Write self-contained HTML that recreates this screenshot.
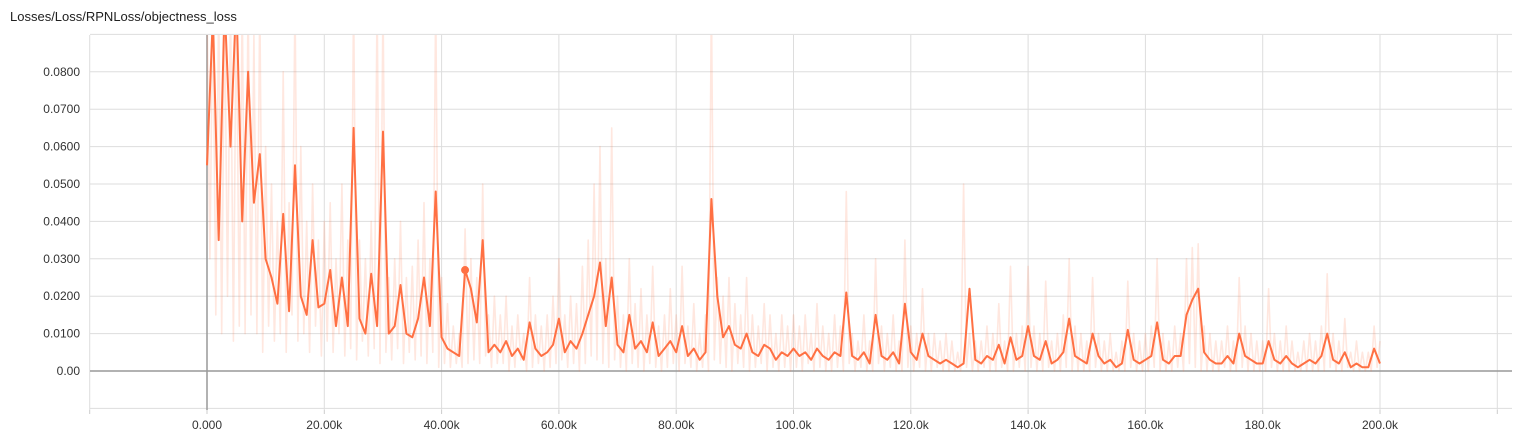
<!DOCTYPE html>
<html><head><meta charset="utf-8">
<style>
html,body{margin:0;padding:0;background:#fff;width:1515px;height:434px;overflow:hidden;font-family:"Liberation Sans",sans-serif;}
#title{position:absolute;left:10px;top:9px;font-size:13px;color:#212121;}
svg{position:absolute;left:0;top:0;}
text{font-family:"Liberation Sans",sans-serif;font-size:12px;fill:#333;}
</style></head>
<body>
<div id="title">Losses/Loss/RPNLoss/objectness_loss</div>
<svg id="chart" width="1515" height="434"></svg>
<script>
// steps in thousands; loss values in thousandths (milli)
const smoothedMilli = [
55,95,35,98,60,100,40,80,45,58,
30,25,18,42,16,55,20,15,35,17,
18,27,12,25,12,65,14,10,26,12,
64,10,12,23,10,9,14,25,12,48,
9,6,5,4,27,22,13,35,5,7,
5,8,4,6,3,13,6,4,5,7,
14,5,8,6,10,15,20,29,12,25,
7,5,15,6,8,5,13,4,6,8,
5,12,4,6,3,5,46,20,9,12,
7,6,10,5,4,7,6,3,5,4,
6,4,5,3,6,4,3,5,4,21,
4,3,5,2,15,4,3,5,2,18,
5,3,10,4,3,2,3,2,1,2,
22,3,2,4,3,7,2,9,3,4,
12,4,3,8,2,3,5,14,4,3,
2,10,4,2,3,1,2,11,3,2,
3,4,13,3,2,4,4,15,19,22,
5,3,2,2,4,2,10,4,3,2,
2,8,3,2,4,2,1,2,3,2,
4,10,3,2,5,1,2,1,1,6,
2];
const rawHighMilli = [
100,100,100,100,100,100,100,100,90,100,
60,50,40,80,45,100,60,40,50,35,
40,45,30,50,35,100,35,30,40,100,
100,25,30,40,25,28,35,45,30,100,
25,18,12,10,38,30,25,50,15,20,
15,20,12,15,10,25,15,12,15,20,
30,15,20,18,28,35,50,60,30,65,
20,15,30,18,22,15,28,12,15,22,
15,28,12,18,10,15,100,25,20,25,
18,15,25,15,12,18,15,10,15,12,
15,12,15,10,18,12,10,15,12,48,
10,8,15,8,30,12,10,15,8,35,
12,10,22,10,10,8,10,8,5,50,
10,8,8,12,10,18,8,28,10,12,
28,12,10,24,8,10,15,30,12,10,
8,25,10,8,10,5,8,24,10,8,
10,12,30,10,8,12,10,30,33,34,
12,10,8,8,12,8,25,12,10,8,
8,22,10,8,12,8,5,8,10,8,
12,26,10,8,14,5,8,5,5,12,
8];
const rawLowMilli = [
30,15,10,20,8,12,10,15,10,5,
12,8,10,5,15,8,10,5,12,4,
8,5,10,4,6,3,8,4,6,2,
5,3,6,2,5,3,4,2,5,1,
2,1,2,1,2,3,2,4,1,2,
2,0,1,3,0,1,2,0,1,2,
3,1,2,0,2,4,3,2,1,3,
1,0,2,1,0,2,1,0,1,2,
0,2,1,0,1,0,3,2,1,0,
2,1,0,1,2,0,1,0,1,0,
1,0,2,0,1,0,0,1,0,2,
0,1,0,0,2,0,1,0,0,1,
0,1,0,0,1,0,0,0,0,1,
0,0,1,0,0,1,0,0,1,0,
1,0,0,1,0,0,1,0,0,0,
0,1,0,0,0,0,0,1,0,0,
0,1,0,0,0,1,0,2,1,0,
0,0,0,1,0,0,1,0,0,0,
0,1,0,0,0,0,0,0,0,0,
0,1,0,0,1,0,0,0,0,1,
0];
const yTickValues = [0,0.01,0.02,0.03,0.04,0.05,0.06,0.07,0.08];
const yTickLabels = ["0.00","0.0100","0.0200","0.0300","0.0400","0.0500","0.0600","0.0700","0.0800"];
const xTickSteps = [0,20,40,60,80,100,120,140,160,180,200];
const xTickLabels = ["0.000","20.00k","40.00k","60.00k","80.00k","100.0k","120.0k","140.0k","160.0k","180.0k","200.0k"];
const markerStep = 44;

const NS="http://www.w3.org/2000/svg";
const svg=document.getElementById('chart');
const L=90,R=1512,T=35,B=410;
function xs(k){return 207+k*5.865;}
function ys(v){return 371-v*3740;}
function mk(tag,attrs){const e=document.createElementNS(NS,tag);for(const k in attrs)e.setAttribute(k,attrs[k]);return e;}

const defs=mk('defs',{});
const cp=mk('clipPath',{id:'clip'});
cp.appendChild(mk('rect',{x:L,y:T,width:R-L,height:B-T}));
defs.appendChild(cp);svg.appendChild(defs);

const grid=mk('g',{});


svg.appendChild(grid);
for(let v=-1;v<=9;v++){
  const y=ys(v/100);
  const ln=mk('line',{x1:L,x2:R,y1:y,y2:y,stroke:'#ddd','stroke-width':1});
  
  
  grid.appendChild(ln);
}
for(let k=-20;k<=220;k+=20){
  const x=xs(k);
  const ln=mk('line',{x1:x,x2:x,y1:T,y2:B,stroke:'#ddd','stroke-width':1});
  
  
  grid.appendChild(ln);
  const tk=mk('line',{x1:x,x2:x,y1:B,y2:B+4,stroke:'#ccc','stroke-width':1});
  
  
  grid.appendChild(tk);
}
const ax=mk('line',{x1:L,x2:R,y1:ys(0),y2:ys(0),stroke:'#999','stroke-width':1.5});


svg.appendChild(ax);
const ay=mk('line',{x1:xs(0),x2:xs(0),y1:T,y2:B,stroke:'#999','stroke-width':1.5});


svg.appendChild(ay);

yTickValues.forEach((v,i)=>{
  const t=mk('text',{x:80,y:ys(v)+4,'text-anchor':'end'});
  t.textContent=yTickLabels[i];
  
  
  svg.appendChild(t);
});
xTickSteps.forEach((k,i)=>{
  const t=mk('text',{x:xs(k),y:429,'text-anchor':'middle'});
  t.textContent=xTickLabels[i];
  
  
  svg.appendChild(t);
});

const g=mk('g',{'clip-path':'url(#clip)'});
svg.appendChild(g);
let rp=[];
rawHighMilli.forEach((v,i)=>{
  rp.push(xs(i).toFixed(1)+','+ys(v/1000).toFixed(1));
  if(i<rawLowMilli.length-1) rp.push(xs(i+0.5).toFixed(1)+','+ys(rawLowMilli[i]/1000).toFixed(1));
});
const raw=mk('polyline',{points:rp.join(' '),fill:'none',stroke:'#ff7043','stroke-opacity':0.17,'stroke-width':1.6,'stroke-linejoin':'round'});


g.appendChild(raw);
const sp=smoothedMilli.map((v,i)=>xs(i).toFixed(1)+','+ys(v/1000).toFixed(1)).join(' ');
const sm=mk('polyline',{points:sp,fill:'none',stroke:'#ff7043','stroke-width':2,'stroke-linejoin':'round'});


g.appendChild(sm);
const dot=mk('circle',{cx:xs(markerStep),cy:ys(smoothedMilli[markerStep]/1000),r:4,fill:'#ff7043'});


g.appendChild(dot);
</script>
</body></html>
